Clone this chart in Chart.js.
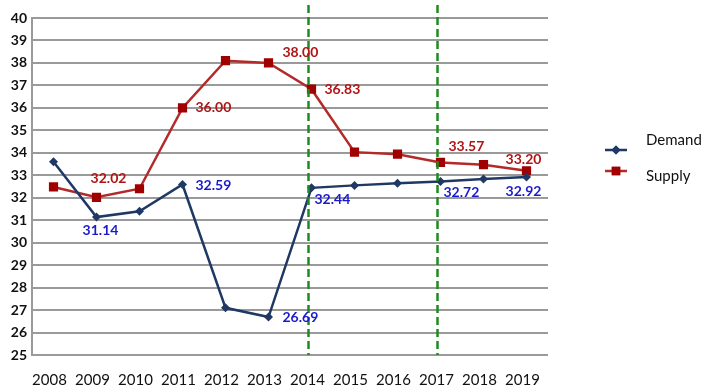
<!DOCTYPE html>
<html>
<head>
<meta charset="utf-8">
<script src="https://cdn.jsdelivr.net/npm/chart.js@4.4.0/dist/chart.umd.min.js"></script>
<style>
  html, body { margin: 0; padding: 0; background: #fff; }
  #wrap { width: 710px; height: 388px; }
</style>
</head>
<body>
<div id="wrap"><canvas id="chart" width="710" height="388"></canvas></div>
<script>
// data
var years = ["2008", "2009", "2010", "2011", "2012", "2013", "2014", "2015", "2016", "2017", "2018", "2019"];
var demand = [33.6, 31.14, 31.4, 32.59, 27.1, 26.69, 32.44, 32.55, 32.65, 32.72, 32.83, 32.92];
var supply = [32.48, 32.02, 32.4, 36.0, 38.1, 38.0, 36.83, 34.03, 33.94, 33.57, 33.47, 33.2];
var markedYears = ["2014", "2017"];

// which points carry a value label, and where it sits
var demandLabels = [
    { i: 1, dx: 4, dy: 13, align: "center" },
    { i: 3, dx: 13, dy: 1, align: "left" },
    { i: 5, dx: 14, dy: 0, align: "left" },
    { i: 6, dx: 3, dy: 12, align: "left" },
    { i: 9, dx: 3, dy: 11, align: "left" },
    { i: 11, dx: -3, dy: 14, align: "center" }
];
var supplyLabels = [
    { i: 1, dx: 12, dy: -19, align: "center" },
    { i: 3, dx: 13, dy: 0, align: "left" },
    { i: 5, dx: 14, dy: -10, align: "left" },
    { i: 6, dx: 13, dy: 0, align: "left" },
    { i: 9, dx: 8, dy: -16, align: "left" },
    { i: 11, dx: -3, dy: -11, align: "center" }
];

var demandColor = "#1f3864";
var supplyColor = "#b22a2a";

// green dashed year markers
var markerLines = {
    id: "markerLines",
    afterDatasetsDraw: function (chart) {
        var ctx = chart.ctx;
        var x = chart.scales.x;
        ctx.save();
        ctx.strokeStyle = "#1f8a1f";
        ctx.lineWidth = 2.5;
        ctx.setLineDash([8, 4]);
        markedYears.forEach(function (y) {
            var px = x.getPixelForValue(years.indexOf(y)) - 3;
            ctx.beginPath();
            ctx.moveTo(px, 5);
            ctx.lineTo(px, chart.chartArea.bottom);
            ctx.stroke();
        });
        ctx.restore();
    }
};

// value labels
var valueLabels = {
    id: "valueLabels",
    afterDatasetsDraw: function (chart) {
        var ctx = chart.ctx;
        ctx.save();
        ctx.font = "bold 14px Lato";
        ctx.textBaseline = "middle";
        var sets = [[0, demandLabels, "#1a1acc", demand], [1, supplyLabels, "#b01515", supply]];
        sets.forEach(function (s) {
            var meta = chart.getDatasetMeta(s[0]);
            ctx.fillStyle = s[2];
            s[1].forEach(function (l) {
                var p = meta.data[l.i];
                ctx.textAlign = l.align;
                ctx.fillText(s[3][l.i].toFixed(2), p.x + l.dx, p.y + l.dy);
            });
        });
        ctx.restore();
    }
};

// legend on the right
var sideLegend = {
    id: "sideLegend",
    afterDraw: function (chart) {
        var ctx = chart.ctx;
        var items = [
            { text: "Demand", color: demandColor, style: "rectRot", r: 4.5, ly: 150, ty: 140 },
            { text: "Supply", color: supplyColor, style: "rect", r: 6, ly: 171, ty: 176 }
        ];
        ctx.save();
        items.forEach(function (it) {
            ctx.strokeStyle = it.color;
            ctx.lineWidth = 2.5;
            ctx.beginPath();
            ctx.moveTo(605, it.ly);
            ctx.lineTo(627, it.ly);
            ctx.stroke();
            ctx.fillStyle = it.style === "rect" ? "#a00000" : it.color;
            Chart.helpers.drawPoint(ctx, { pointStyle: it.style, radius: it.r, borderWidth: 0 }, 616, it.ly);
            ctx.fill();
            ctx.fillStyle = "#111";
            ctx.font = "15px Lato";
            ctx.textAlign = "left";
            ctx.textBaseline = "middle";
            ctx.fillText(it.text, 646, it.ty);
        });
        ctx.restore();
    }
};

new Chart(document.getElementById("chart"), {
    type: "line",
    data: {
        labels: years,
        datasets: [
            {
                label: "Demand",
                data: demand,
                borderColor: demandColor,
                backgroundColor: demandColor,
                borderWidth: 2.5,
                pointStyle: "rectRot",
                pointRadius: 4.5,
                pointBorderWidth: 0,
                tension: 0
            },
            {
                label: "Supply",
                data: supply,
                borderColor: supplyColor,
                backgroundColor: "#a00000",
                borderWidth: 2.5,
                pointStyle: "rect",
                pointRadius: 6.5,
                pointBorderWidth: 0,
                tension: 0
            }
        ]
    },
    options: {
        responsive: false,
        animation: false,
        layout: { padding: { top: 18, right: 162, left: 0, bottom: 0 } },
        plugins: {
            legend: { display: false },
            tooltip: { enabled: false }
        },
        scales: {
            x: {
                offset: true,
                grid: { display: false },
                border: { display: false },
                ticks: { color: "#111", font: { family: "Lato", size: 15 }, padding: 8, maxRotation: 0, labelOffset: -4 },
                afterFit: function (s) { s.height = 33; }
            },
            y: {
                min: 25,
                max: 40,
                ticks: { stepSize: 1, color: "#111", font: { family: "Lato", size: 14, weight: "bold" }, padding: 5 },
                grid: { color: "#9a9a9a", lineWidth: 2, drawTicks: false },
                border: { display: true, color: "#9a9a9a", width: 2 },
                afterFit: function (s) { s.width = 32; }
            }
        }
    },
    plugins: [markerLines, valueLabels, sideLegend]
});
</script>
</body>
</html>
